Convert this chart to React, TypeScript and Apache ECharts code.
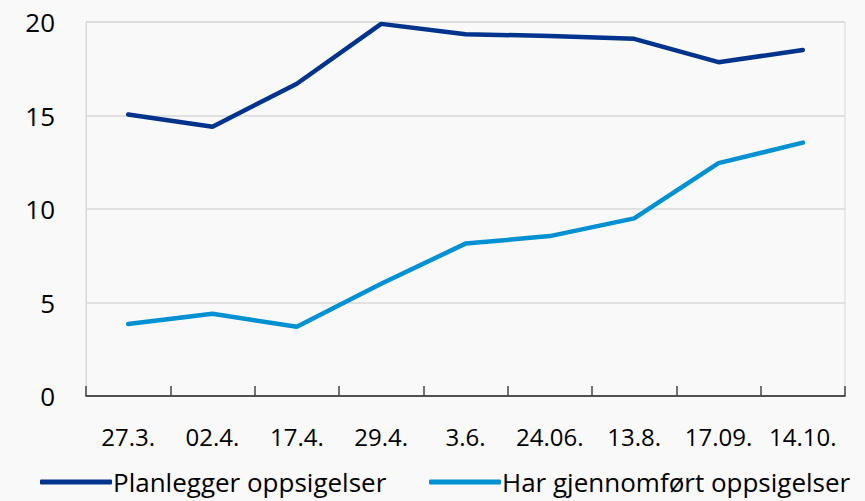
import React, { useEffect, useRef } from "react";
import * as echarts from "echarts";

const categories = ["27.3.", "02.4.", "17.4.", "29.4.", "3.6.", "24.06.", "13.8.", "17.09.", "14.10."];
const planlegger = [15.05, 14.4, 16.7, 19.9, 19.35, 19.25, 19.1, 17.85, 18.5];
const gjennomfort = [3.85, 4.4, 3.7, 6.0, 8.15, 8.55, 9.5, 12.45, 13.55];
const yTicks = [0, 5, 10, 15, 20];

const FONT = "Open Sans";

export default function App() {
  const ref = useRef<HTMLDivElement>(null);
  useEffect(() => {
    if (!ref.current) return;
    const chart = echarts.init(ref.current, null, { renderer: "svg" });
    const legendText = { fontFamily: FONT, fontSize: 26, color: "#000", padding: [0, 0, 0, -4] };
    chart.setOption({
      animation: false,
      backgroundColor: "#f9f9f9",
      textStyle: { fontFamily: FONT },
      grid: {
        left: 86,
        right: 20,
        top: 22,
        bottom: 105,
        show: true,
        borderColor: "#d9d9d9",
        borderWidth: 1,
        backgroundColor: "transparent",
      },
      legend: [
        {
          data: ["Planlegger oppsigelser"],
          left: 40,
          top: 469,
          padding: 0,
          icon: "roundRect",
          itemWidth: 72,
          itemHeight: 5,
          textStyle: legendText,
        },
        {
          data: ["Har gjennomført oppsigelser"],
          left: 429,
          top: 469,
          padding: 0,
          icon: "roundRect",
          itemWidth: 72,
          itemHeight: 5,
          textStyle: legendText,
        },
      ],
      xAxis: {
        type: "category",
        data: categories,
        boundaryGap: true,
        axisLine: { show: true, lineStyle: { color: "#222", width: 1.5 } },
        axisTick: { show: true, inside: true, length: 10, interval: 0, lineStyle: { color: "#444", width: 1.5 } },
        axisLabel: { fontFamily: FONT, fontSize: 24, color: "#000", margin: 28, interval: 0 },
        splitLine: { show: false },
      },
      yAxis: {
        type: "value",
        min: 0,
        max: 20,
        interval: 5,
        axisLine: { show: true, lineStyle: { color: "#d9d9d9" } },
        axisTick: { show: false },
        axisLabel: {
          fontFamily: FONT,
          fontSize: 26,
          color: "#000",
          margin: 31,
          formatter: (v: number) => (yTicks.includes(v) ? String(v) : ""),
        },
        splitLine: { show: true, lineStyle: { color: "#d9d9d9", width: 1.5 } },
      },
      series: [
        {
          name: "Planlegger oppsigelser",
          type: "line",
          data: planlegger,
          symbol: "none",
          color: "#00338d",
          lineStyle: { width: 4.5, color: "#00338d", cap: "round" },
        },
        {
          name: "Har gjennomført oppsigelser",
          type: "line",
          data: gjennomfort,
          symbol: "none",
          color: "#0090d4",
          lineStyle: { width: 4.5, color: "#0090d4", cap: "round" },
        },
      ],
    });
    return () => chart.dispose();
  }, []);
  return (
    <div
      ref={ref}
      style={{ position: "fixed", left: 0, top: 0, width: 865, height: 501 }}
    />
  );
}
